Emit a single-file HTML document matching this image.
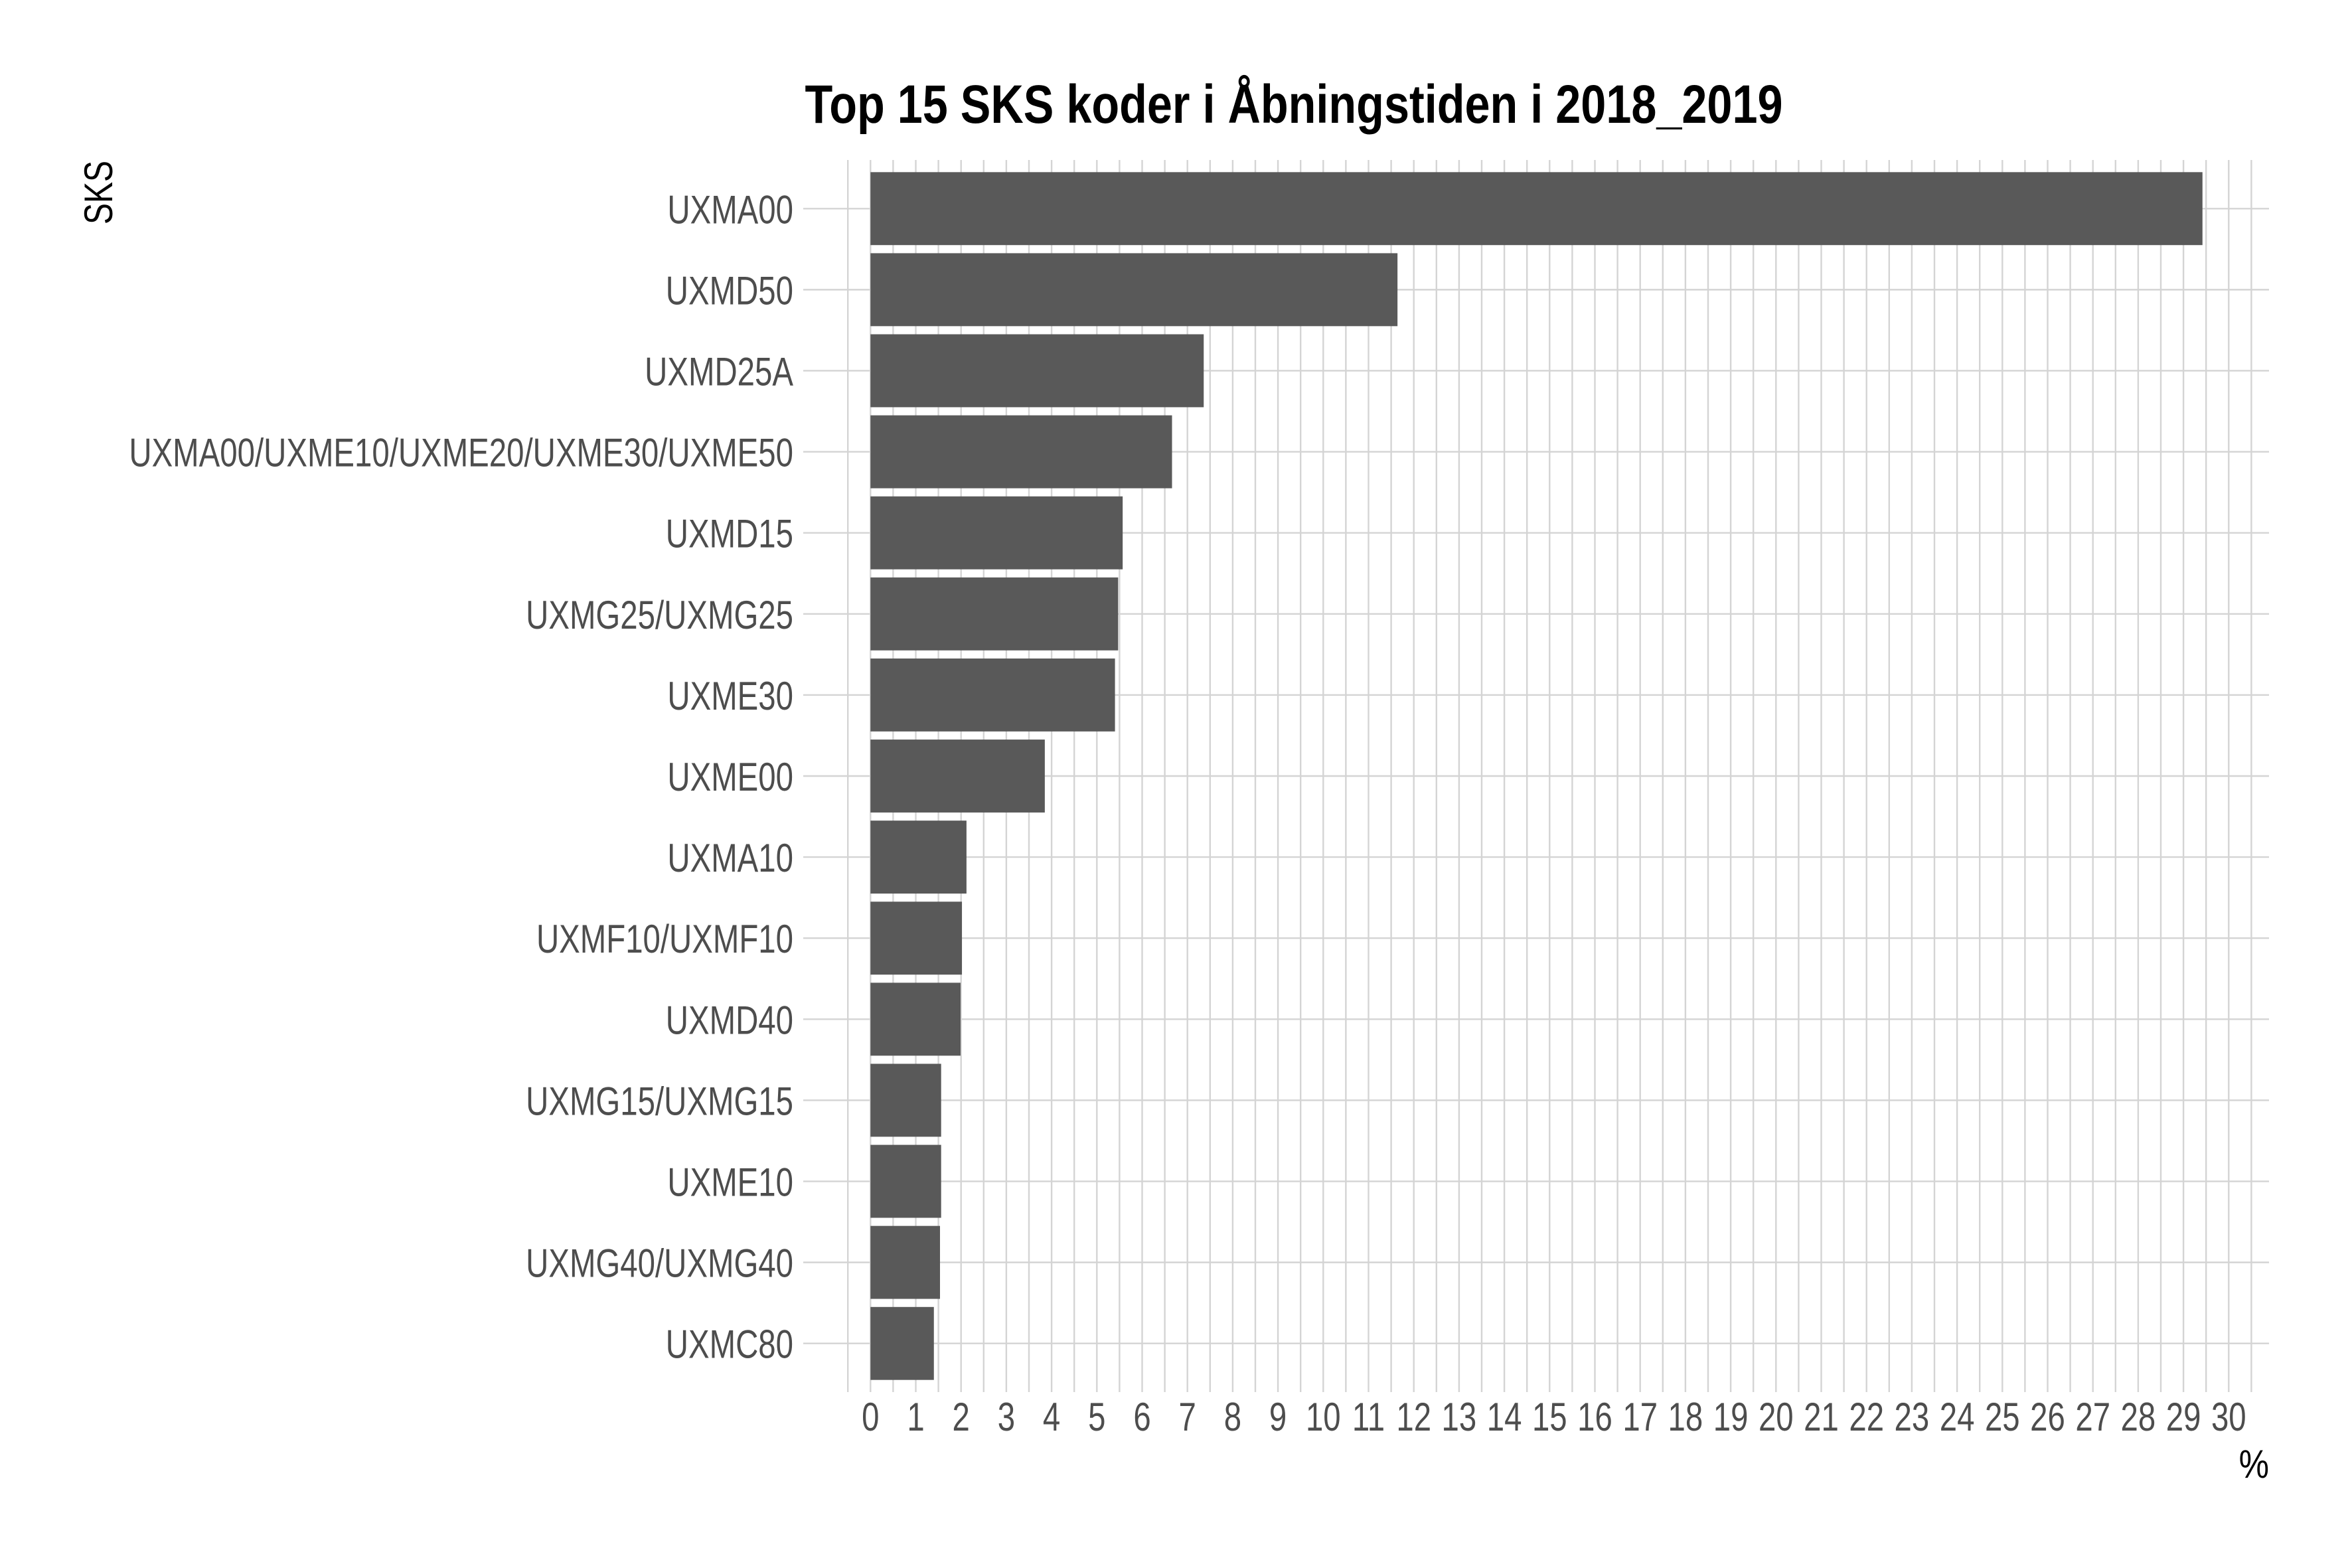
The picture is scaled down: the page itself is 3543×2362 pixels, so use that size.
<!DOCTYPE html>
<html><head><meta charset="utf-8"><style>
html,body{margin:0;padding:0;background:#fff;}
svg{display:block;}
</style></head><body>
<svg id="chart" width="3543" height="2362" viewBox="0 0 3543 2362" xmlns="http://www.w3.org/2000/svg">
<rect width="3543" height="2362" fill="#fff"/>
<text x="1949" y="185" text-anchor="middle" font-family="'Liberation Sans Narrow','Liberation Sans',sans-serif" font-weight="bold" font-size="82" textLength="1473" lengthAdjust="spacingAndGlyphs" fill="#000">Top 15 SKS koder i Åbningstiden i 2018_2019</text>
<g id="grid"></g>
<g id="bars"></g>
<g id="ylabels"></g>
<g id="xlabels"></g>
<text transform="translate(169,242) rotate(-90) scale(0.8,1)" text-anchor="end" font-family="'Liberation Sans',sans-serif" font-size="60" fill="#000">SKS</text>
<text transform="translate(3418,2226) scale(0.85,1)" text-anchor="end" font-family="'Liberation Sans',sans-serif" font-size="60" fill="#000">%</text>
</svg>
<script>
const categories = ["UXMA00","UXMD50","UXMD25A","UXMA00/UXME10/UXME20/UXME30/UXME50","UXMD15","UXMG25/UXMG25","UXME30","UXME00","UXMA10","UXMF10/UXMF10","UXMD40","UXMG15/UXMG15","UXME10","UXMG40/UXMG40","UXMC80"];
const values = [29.42,11.64,7.36,6.66,5.57,5.47,5.40,3.85,2.12,2.02,1.99,1.56,1.56,1.535,1.40];
const xTicks = [0,1,2,3,4,5,6,7,8,9,10,11,12,13,14,15,16,17,18,19,20,21,22,23,24,25,26,27,28,29,30];

const NS = "http://www.w3.org/2000/svg";
const panelL = 1210, panelR = 3418, panelT = 241, panelB = 2097;
const x0px = 1311.3, unit = 68.2;
function xs(v){ return x0px + v*unit; }
const n = categories.length;
const pitch = (panelB - panelT) / (n + 0.2);
function ys(i){ return panelT + (0.6 + i) * pitch; }
const font = "'Liberation Sans',sans-serif";
const squeeze = 0.79;

const grid = document.getElementById('grid');
for (let k = -1; k <= 61; k++) {
  const v = k / 2;
  const x = xs(v);
  if (x < panelL || x > panelR) continue;
  const l = document.createElementNS(NS, 'line');
  
  
  l.setAttribute('x1', x); l.setAttribute('x2', x);
  l.setAttribute('y1', panelT); l.setAttribute('y2', panelB);
  l.setAttribute('stroke', '#d4d4d4');
  l.setAttribute('stroke-width', '2.4');
  grid.appendChild(l);
}
categories.forEach((c, i) => {
  const y = ys(i);
  const l = document.createElementNS(NS, 'line');
  
  
  l.setAttribute('x1', panelL); l.setAttribute('x2', panelR);
  l.setAttribute('y1', y); l.setAttribute('y2', y);
  l.setAttribute('stroke', '#d4d4d4');
  l.setAttribute('stroke-width', '2.4');
  grid.appendChild(l);
});

const bars = document.getElementById('bars');
const bh = pitch * 0.9;
values.forEach((v, i) => {
  const r = document.createElementNS(NS, 'rect');
  
  
  r.setAttribute('x', xs(0));
  r.setAttribute('y', ys(i) - bh / 2);
  r.setAttribute('width', xs(v) - xs(0));
  r.setAttribute('height', bh);
  r.setAttribute('fill', '#595959');
  bars.appendChild(r);
});

const yl = document.getElementById('ylabels');
categories.forEach((c, i) => {
  const t = document.createElementNS(NS, 'text');
  
  
  t.setAttribute('transform', 'translate(1195,' + (ys(i) + 22) + ') scale(' + squeeze + ',1)');
  t.setAttribute('text-anchor', 'end');
  t.setAttribute('font-family', font);
  t.setAttribute('font-size', '60');
  t.setAttribute('fill', '#4d4d4d');
  t.textContent = c;
  yl.appendChild(t);
});

const xl = document.getElementById('xlabels');
xTicks.forEach(v => {
  const t = document.createElementNS(NS, 'text');
  
  
  t.setAttribute('transform', 'translate(' + xs(v) + ',2155) scale(' + squeeze + ',1)');
  t.setAttribute('text-anchor', 'middle');
  t.setAttribute('font-family', font);
  t.setAttribute('font-size', '60');
  t.setAttribute('fill', '#4d4d4d');
  t.textContent = String(v);
  xl.appendChild(t);
});
</script>
</body></html>
